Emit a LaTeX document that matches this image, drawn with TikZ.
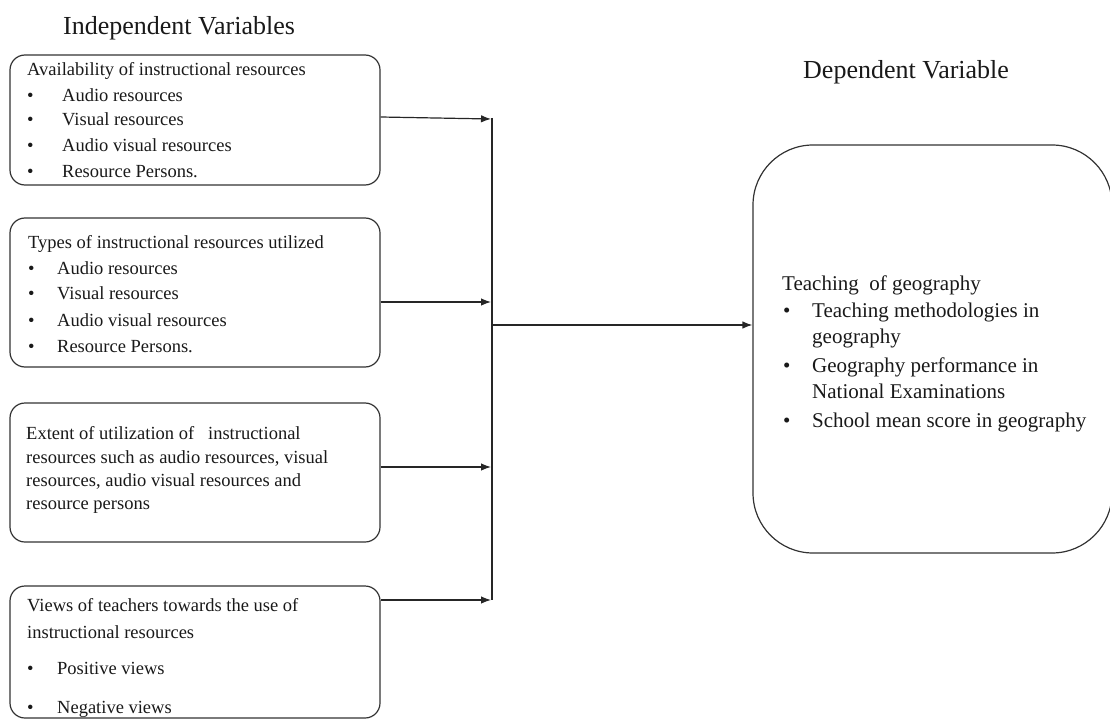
\documentclass[tikz,border=0pt]{standalone}
\usepackage{fontspec}
\setmainfont{Liberation Serif}
\usetikzlibrary{arrows.meta}
\newcommand{\bitem}[2]{\makebox[#1][l]{•}#2}
\tikzset{
 box/.style={draw=black!80, line width=1.2pt, rounded corners=15pt, inner sep=0pt},
 bigbox/.style={box, rounded corners=60pt},
 txt/.style={anchor=base west, inner sep=0pt, font=\fontsize{18.5}{22}\selectfont, text=black!90},
 rtxt/.style={anchor=base west, inner sep=0pt, font=\fontsize{21}{25}\selectfont, text=black!90},
 ttl/.style={anchor=base west, inner sep=0pt, font=\fontsize{26}{30}\selectfont, text=black!90},
 arr/.style={draw=black!85, line width=1.2pt, -{Latex[length=10pt,width=7.5pt]}},
 bus/.style={draw=black!85, line width=1.2pt},
}
\begin{document}
\begin{tikzpicture}[x=1pt,y=-1pt]
\useasboundingbox (0,0) rectangle (1110,719);
% titles
\node[ttl] (tind) at (63,35) {Independent Variables};
\node[ttl] (tdep) at (803,79) {Dependent Variable};
% boxes
\node[box, minimum width=370pt, minimum height=130pt] (b1) at (195,120) {};
\node[box, minimum width=370pt, minimum height=149pt] (b2) at (195,292.5) {};
\node[box, minimum width=370pt, minimum height=139pt] (b3) at (195,472.5) {};
\node[box, minimum width=370pt, minimum height=132pt] (b4) at (195,652) {};
\node[bigbox, minimum width=359pt, minimum height=408pt] (dep) at (932.5,349) {};
% box 1 text
\node[txt] (b1a) at (27,76) {Availability of instructional resources};
\node[txt] (b1b) at (27,102) {\bitem{35pt}{Audio resources}};
\node[txt] (b1c) at (27,126) {\bitem{35pt}{Visual resources}};
\node[txt] (b1d) at (27,152) {\bitem{35pt}{Audio visual resources}};
\node[txt] (b1e) at (27,178) {\bitem{35pt}{Resource Persons.}};
% box 2 text
\node[txt] (b2a) at (28,248) {Types of instructional resources utilized};
\node[txt] (b2b) at (28,274) {\bitem{29pt}{Audio resources}};
\node[txt] (b2c) at (28,299) {\bitem{29pt}{Visual resources}};
\node[txt] (b2d) at (28,326) {\bitem{29pt}{Audio visual resources}};
\node[txt] (b2e) at (28,352) {\bitem{29pt}{Resource Persons.}};
% box 3 text
\node[txt] (b3a) at (26,439) {Extent of utilization of\ \ \ instructional};
\node[txt] (b3b) at (26,463) {resources such as audio resources, visual};
\node[txt] (b3c) at (26,486) {resources, audio visual resources and};
\node[txt] (b3d) at (26,509) {resource persons};
% box 4 text
\node[txt] (b4a) at (27,611) {Views of teachers towards the use of};
\node[txt] (b4b) at (27,638) {instructional resources};
\node[txt] (b4c) at (27,674) {\bitem{30pt}{Positive views}};
\node[txt] (b4d) at (27,713) {\bitem{30pt}{Negative views}};
% dependent text
\node[rtxt] (d1) at (782,290) {Teaching~ of geography};
\node[rtxt] (d2) at (783,317) {\bitem{29pt}{Teaching methodologies in}};
\node[rtxt] (d3) at (812,343.5) {geography};
\node[rtxt] (d4) at (783,372) {\bitem{29pt}{Geography performance in}};
\node[rtxt] (d5) at (812,398.5) {National Examinations};
\node[rtxt] (d6) at (783,427) {\bitem{29pt}{School mean score in geography}};
% connectors
\coordinate (j1) at (491,119);
\coordinate (j2) at (491,302);
\coordinate (j3) at (491,467);
\coordinate (j4) at (491,600);
\coordinate (jm) at (492,325);
\coordinate (jt) at (492,118);
\coordinate (jb) at (492,600);
\draw[bus] (jt) -- (jb);
\draw[arr] ([yshift=3pt]b1.east) -- (j1);
\draw[arr] (b2.east |- j2) -- (j2);
\draw[arr] (b3.east |- j3) -- (j3);
\draw[arr] (b4.east |- j4) -- (j4);
\draw[arr] (jm) -- (dep.west |- jm);
\end{tikzpicture}
\end{document}
